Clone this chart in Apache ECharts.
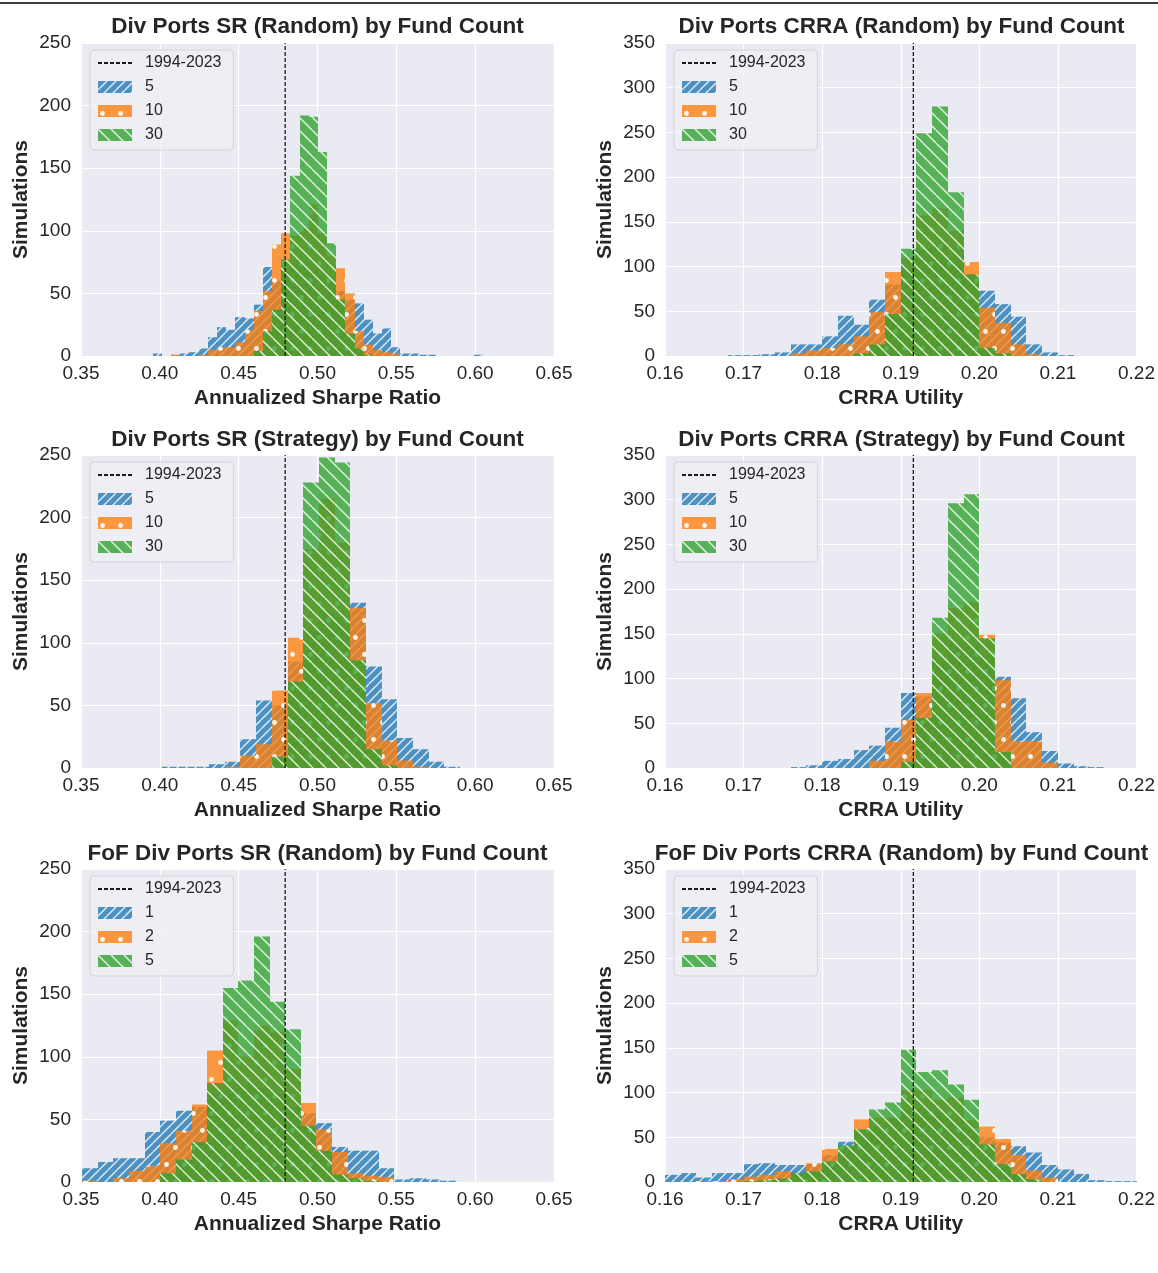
<!DOCTYPE html>
<html>
<head>
<meta charset="utf-8">
<script src="https://cdn.jsdelivr.net/npm/echarts@6/dist/echarts.min.js"></script>
<style>
  html, body { margin: 0; padding: 0; background: #fff; }
  #chart { width: 1158px; height: 1273px; }
</style>
</head>
<body>
<div id="chart"></div>
<script>
// reference line (1994-2023 realised value)
const srRef = 0.4795;
const crraRef = 0.1916;

// Div Ports SR (Random): bins start / width, counts per fund count
const srRandStart = 0.3955, srRandWidth = 0.00582;
const srRand5 = [2, 0, 1, 2, 3, 6, 15, 23, 21, 31, 30, 41, 71, 60, 68, 72, 75, 70, 65, 58, 52, 45, 42, 29, 18, 22, 7, 2, 2, 1, 1, 0, 0, 0, 0, 1];
const srRand10 = [0, 0, 1, 0, 0, 1, 5, 7, 7, 11, 21, 36, 52, 89, 98, 96, 102, 121, 98, 80, 70, 50, 20, 9, 5, 3, 2, 0, 0, 0, 0, 0, 0, 0, 0, 0];
const srRand30 = [0, 0, 0, 0, 0, 0, 0, 0, 0, 0, 0, 4, 20, 37, 77, 144, 192, 191, 163, 90, 45, 18, 6, 1, 0, 0, 0, 0, 0, 0, 0, 0, 0, 0, 0, 0];

// Div Ports CRRA (Random)
const crRandStart = 0.168, crRandWidth = 0.002;
const crRand5 = [1, 1, 2, 4, 13, 13, 22, 45, 35, 63, 80, 100, 120, 125, 110, 92, 73, 58, 44, 13, 4, 1];
const crRand10 = [0, 0, 0, 0, 3, 6, 9, 13, 22, 49, 94, 110, 157, 165, 140, 105, 54, 37, 13, 2, 0, 0];
const crRand30 = [0, 0, 0, 0, 0, 0, 0, 0, 3, 13, 47, 120, 249, 279, 183, 91, 9, 3, 0, 0, 0, 0];

// Div Ports SR (Strategy)
const srStratStart = 0.4014, srStratWidth = 0.00995;
const srStrat5 = [1, 1, 1, 3, 5, 23, 54, 50, 85, 110, 125, 120, 132, 81, 55, 24, 15, 5, 1];
const srStrat10 = [0, 0, 0, 0, 1, 10, 19, 62, 104, 175, 215, 180, 128, 52, 22, 6, 1, 0, 0];
const srStrat30 = [0, 0, 0, 0, 0, 0, 0, 9, 69, 228, 248, 244, 86, 15, 2, 0, 0, 0, 0];

// Div Ports CRRA (Strategy)
const crStratStart = 0.176, crStratWidth = 0.002;
const crStrat5 = [1, 3, 8, 10, 20, 25, 45, 84, 80, 120, 140, 140, 125, 102, 78, 40, 19, 5, 2, 1];
const crStrat10 = [0, 0, 0, 0, 0, 8, 30, 54, 84, 150, 179, 186, 149, 98, 30, 30, 6, 0, 0, 0];
const crStrat30 = [0, 0, 0, 0, 0, 0, 0, 7, 56, 168, 296, 306, 145, 18, 0, 0, 0, 0, 0, 0];

// FoF Div Ports SR (Random)
const fofSrStart = 0.3508, fofSrWidth = 0.0099;
const fofSr1 = [11, 16, 19, 19, 40, 49, 57, 60, 70, 75, 78, 75, 70, 60, 55, 47, 28, 25, 25, 11, 2, 3, 2, 1];
const fofSr2 = [1, 0, 3, 9, 13, 31, 41, 62, 105, 129, 100, 125, 120, 90, 63, 42, 24, 7, 5, 4, 0, 0, 0, 0];
const fofSr5 = [0, 0, 0, 0, 0, 7, 18, 32, 79, 155, 161, 196, 144, 122, 45, 25, 6, 3, 1, 0, 0, 0, 0, 0];

// FoF Div Ports CRRA (Random)
const fofCrStart = 0.16, fofCrWidth = 0.002;
const fofCr1 = [8, 10, 5, 10, 10, 20, 21, 19, 19, 20, 30, 45, 55, 62, 70, 80, 82, 78, 70, 60, 50, 44, 40, 33, 19, 14, 9, 2, 1, 1];
const fofCr2 = [0, 0, 1, 1, 3, 6, 8, 12, 9, 21, 37, 40, 70, 72, 72, 103, 103, 92, 95, 69, 62, 48, 30, 13, 5, 0, 0, 0, 0, 0];
const fofCr5 = [0, 0, 0, 0, 0, 1, 2, 4, 10, 12, 23, 41, 59, 81, 89, 148, 123, 125, 109, 92, 42, 20, 9, 3, 0, 0, 0, 0, 0, 0];

const fundNames = ['5', '10', '30'];
const fofNames = ['1|fof', '2|fof', '5|fof'];

const font = "'Liberation Sans', Arial, sans-serif";
const ink = '#262626';

// hatched fills like matplotlib: '//' blue, '.' orange, '\\' green
function makeTile(rgb, kind) {
  const c = document.createElement('canvas');
  const w = kind === 'dot' ? 18 : (kind === '/' ? 9 : 13);
  const h = kind === 'dot' ? 34 : w;
  c.width = w; c.height = h;
  const g = c.getContext('2d');
  g.fillStyle = 'rgba(' + rgb + ',0.78)';
  g.fillRect(0, 0, w, h);
  g.strokeStyle = 'rgba(255,255,255,0.85)';
  g.fillStyle = 'rgba(255,255,255,0.92)';
  g.lineWidth = 1.35;
  if (kind === '/') {
    [-w, 0, w].forEach((o) => { g.beginPath(); g.moveTo(o, h); g.lineTo(o + w, 0); g.stroke(); });
  } else if (kind === '\\') {
    [-w, 0, w].forEach((o) => { g.beginPath(); g.moveTo(o, 0); g.lineTo(o + w, h); g.stroke(); });
  } else {
    [[4.5, 8.5], [13.5, 25.5]].forEach(([x, y]) => { g.beginPath(); g.arc(x, y, 2.4, 0, Math.PI * 2); g.fill(); });
  }
  return { image: c, repeat: 'repeat' };
}
const fills = [makeTile('31,119,180', '/'), makeTile('255,127,14', 'dot'), makeTile('44,160,44', '\\')];

const panels = [
  { title: 'Div Ports SR (Random) by Fund Count', xName: 'Annualized Sharpe Ratio', start: srRandStart, width: srRandWidth, counts: [srRand5, srRand10, srRand30], names: fundNames, xMin: 0.35, xMax: 0.65, xStep: 0.05, yMax: 250, ref: srRef },
  { title: 'Div Ports CRRA (Random) by Fund Count', xName: 'CRRA Utility', start: crRandStart, width: crRandWidth, counts: [crRand5, crRand10, crRand30], names: fundNames, xMin: 0.16, xMax: 0.22, xStep: 0.01, yMax: 350, ref: crraRef },
  { title: 'Div Ports SR (Strategy) by Fund Count', xName: 'Annualized Sharpe Ratio', start: srStratStart, width: srStratWidth, counts: [srStrat5, srStrat10, srStrat30], names: fundNames, xMin: 0.35, xMax: 0.65, xStep: 0.05, yMax: 250, ref: srRef },
  { title: 'Div Ports CRRA (Strategy) by Fund Count', xName: 'CRRA Utility', start: crStratStart, width: crStratWidth, counts: [crStrat5, crStrat10, crStrat30], names: fundNames, xMin: 0.16, xMax: 0.22, xStep: 0.01, yMax: 350, ref: crraRef },
  { title: 'FoF Div Ports SR (Random) by Fund Count', xName: 'Annualized Sharpe Ratio', start: fofSrStart, width: fofSrWidth, counts: [fofSr1, fofSr2, fofSr5], names: fofNames, xMin: 0.35, xMax: 0.65, xStep: 0.05, yMax: 250, ref: srRef },
  { title: 'FoF Div Ports CRRA (Random) by Fund Count', xName: 'CRRA Utility', start: fofCrStart, width: fofCrWidth, counts: [fofCr1, fofCr2, fofCr5], names: fofNames, xMin: 0.16, xMax: 0.22, xStep: 0.01, yMax: 350, ref: crraRef },
];

const colLeft = [81, 665];
const rowTop = [43, 455, 869];
const titleTop = [15, 428, 842];
const plotW = 473, plotH = 313;

function histSeries(p, i, s) {
  const fill = fills[s];
  return {
    type: 'custom',
    name: p.names[s],
    xAxisIndex: i,
    yAxisIndex: i,
    clip: true,
    silent: true,
    itemStyle: { color: fill },
    encode: { x: [0, 1], y: 2 },
    data: p.counts[s].map((c, j) => [p.start + j * p.width, p.start + (j + 1) * p.width, c]).filter((d) => d[2] > 0),
    renderItem: (params, api) => {
      const a = api.coord([api.value(0), api.value(2)]);
      const b = api.coord([api.value(1), 0]);
      const x0 = Math.round(a[0]);
      const x1 = Math.round(b[0]);
      return { type: 'rect', shape: { x: x0, y: a[1], width: x1 - x0, height: b[1] - a[1] }, style: { fill } };
    },
  };
}

const series = [];
panels.forEach((p, i) => {
  for (let s = 0; s < 3; s++) series.push(histSeries(p, i, s));
  series.push({
    type: 'line',
    name: '1994-2023',
    xAxisIndex: i,
    yAxisIndex: i,
    data: [[p.ref, 0], [p.ref, p.yMax]],
    symbol: 'none',
    silent: true,
    z: 5,
    itemStyle: { color: 'rgba(0,0,0,0)', borderColor: 'rgba(0,0,0,0)' },
    lineStyle: { color: '#1a1a1a', width: 1.3, type: [4, 2] },
  });
});

const option = {
  animation: false,
  textStyle: { fontFamily: font },
  title: panels.map((p, i) => ({
    text: p.title,
    left: colLeft[i % 2] + plotW / 2,
    top: titleTop[Math.floor(i / 2)],
    textAlign: 'center',
    padding: 0,
    textStyle: { fontSize: 22.5, fontWeight: 'bold', color: ink, fontFamily: font },
  })),
  legend: panels.map((p, i) => ({
    orient: 'vertical',
    left: colLeft[i % 2] + 9,
    top: rowTop[Math.floor(i / 2)] + 7,
    selectedMode: false,
    itemWidth: 34,
    itemHeight: 12,
    itemGap: 6,
    padding: [4, 12, 6, 7],
    backgroundColor: 'rgba(238,238,244,0.85)',
    borderColor: '#d2d2da',
    borderWidth: 1,
    borderRadius: 4,
    textStyle: { fontSize: 16, color: ink, fontFamily: font, lineHeight: 18, padding: [0, 0, 0, 8] },
    formatter: (n) => n.split('|')[0],
    data: ['1994-2023'].concat(p.names.map((n) => ({ name: n, icon: 'rect' }))),
  })),
  grid: panels.map((p, i) => ({
    left: colLeft[i % 2],
    top: rowTop[Math.floor(i / 2)],
    width: plotW,
    height: plotH,
    show: true,
    backgroundColor: '#EAEAF2',
    borderWidth: 0,
  })),
  xAxis: panels.map((p, i) => ({
    gridIndex: i,
    type: 'value',
    min: p.xMin,
    max: p.xMax,
    interval: p.xStep,
    axisLine: { show: false },
    axisTick: { show: false },
    splitLine: { lineStyle: { color: '#ffffff', width: 1.2 } },
    axisLabel: { formatter: (v) => v.toFixed(2), fontSize: 19, color: ink, margin: 8 },
    name: p.xName,
    nameLocation: 'middle',
    nameGap: 32,
    nameTextStyle: { fontSize: 21, fontWeight: 'bold', color: ink },
  })),
  yAxis: panels.map((p, i) => ({
    gridIndex: i,
    type: 'value',
    min: 0,
    max: p.yMax,
    interval: 50,
    axisLine: { show: false },
    axisTick: { show: false },
    splitLine: { lineStyle: { color: '#ffffff', width: 1.2 } },
    axisLabel: { fontSize: 19, color: ink, margin: 10 },
    name: 'Simulations',
    nameLocation: 'middle',
    nameGap: 49,
    nameTextStyle: { fontSize: 21, fontWeight: 'bold', color: ink },
  })),
  graphic: [{ type: 'line', shape: { x1: 0, y1: 3, x2: 1158, y2: 3 }, style: { stroke: '#000', lineWidth: 1.5 } }],
  series,
};

const chart = echarts.init(document.getElementById('chart'), null, { renderer: 'canvas' });
chart.setOption(option);
</script>
</body>
</html>
